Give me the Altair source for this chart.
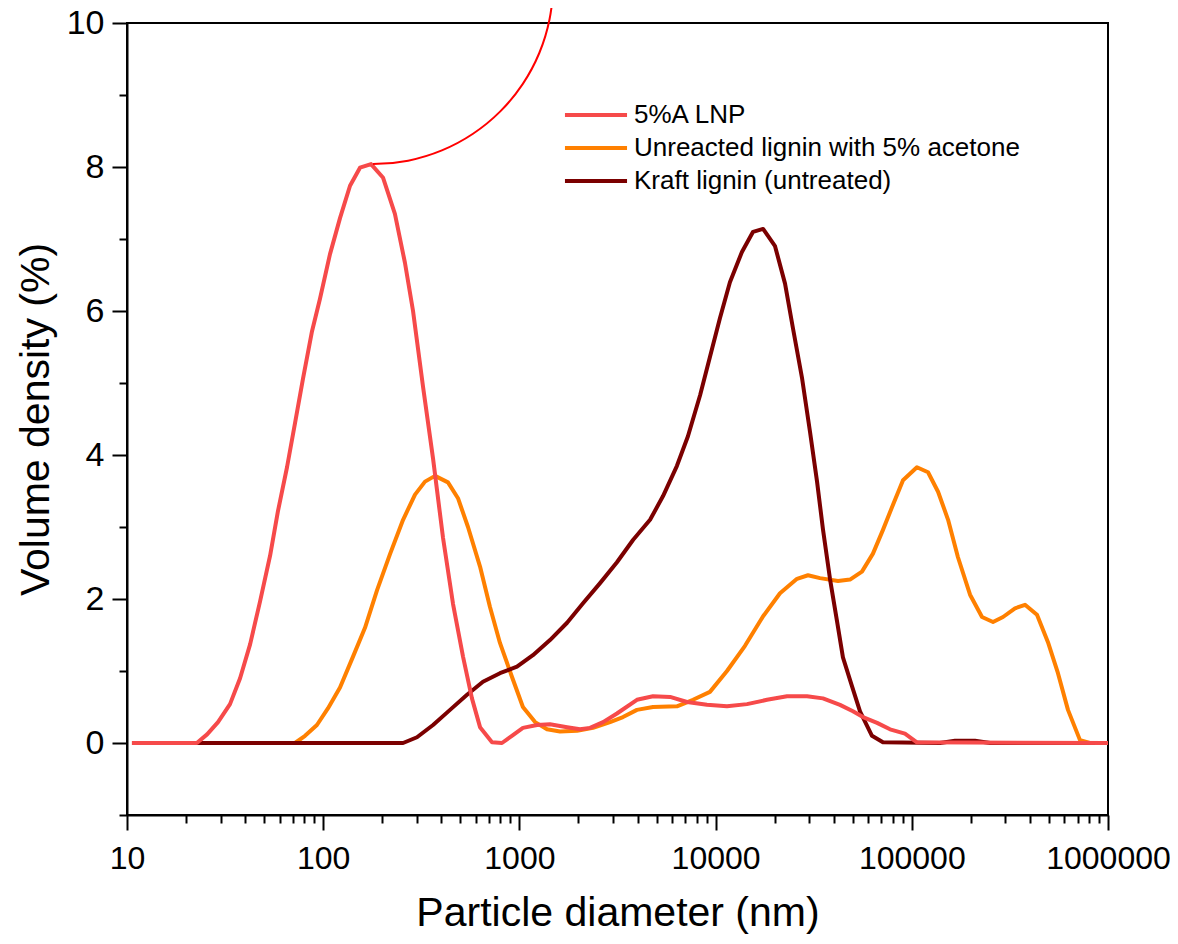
import math
import altair as alt
import pandas as pd

FONT = "Liberation Sans"

series_names = ["5%A LNP", "Unreacted lignin with 5% acetone", "Kraft lignin (untreated)"]
series_colors = ["#F64A4A", "#FF8000", "#7B0000"]

# 5%A LNP
lnp_x = [10.6, 22.7, 25.6, 29.1, 33.5, 37.7, 42.4, 47.6, 53.6, 58.8, 65.4, 71.8, 78.9, 87.7,
         96.3, 108.3, 121.8, 137, 154, 175.3, 202, 232, 261, 287, 323, 363, 408, 459, 516,
         573, 630, 725, 815, 927, 1042, 1230, 1432, 1750, 2037, 2291, 2669, 3142, 3972,
         4796, 5861, 7148, 9036, 11428, 14454, 18281, 23121, 29242, 35250, 43050, 50120,
         56370, 66530, 77450, 92270, 106200, 1000000]
lnp_y = [0, 0, 0.12, 0.29, 0.54, 0.9, 1.37, 1.96, 2.6, 3.22, 3.83, 4.44, 5.06, 5.72,
         6.17, 6.79, 7.29, 7.74, 7.99, 8.04, 7.85, 7.35, 6.67, 6.0, 4.94, 3.95, 2.85, 1.93, 1.2,
         0.62, 0.22, 0.01, 0.0, 0.11, 0.21, 0.25, 0.26, 0.22, 0.19, 0.21, 0.29, 0.41, 0.6,
         0.65, 0.64, 0.57, 0.53, 0.51, 0.54, 0.6, 0.65, 0.65, 0.62, 0.53, 0.44,
         0.36, 0.28, 0.19, 0.13, 0.01, 0]

# Unreacted lignin with 5% acetone
unr_x = [10.6, 71.8, 80.8, 92.9, 105.7, 121.8, 141.9, 163.3, 188, 218.8, 255.3, 293.7, 330.2,
         371.5, 432.5, 486.4, 547, 630, 708, 796, 916, 1042, 1202, 1383, 1611, 1968, 2373,
         2897, 3374, 3972, 4796, 6353, 7674, 9356, 11428, 14120, 17460, 21290, 26000, 29580,
         34050, 42070, 48420, 55720, 63390, 71290, 80200, 90190, 106200, 121000, 136100,
         153100, 171900, 198100, 228000, 259400, 291700, 335700, 377600, 434600, 494300,
         555900, 625200, 719800, 809100, 1000000]
unr_y = [0, 0, 0.1, 0.25, 0.48, 0.77, 1.2, 1.6, 2.12, 2.62, 3.1, 3.45, 3.63,
         3.71, 3.62, 3.4, 3.0, 2.45, 1.89, 1.39, 0.92, 0.5, 0.29, 0.19, 0.16, 0.17, 0.21,
         0.29, 0.36, 0.46, 0.5, 0.51, 0.6, 0.71, 1.0, 1.35, 1.76, 2.08, 2.28, 2.33,
         2.29, 2.25, 2.27, 2.38, 2.63, 2.96, 3.31, 3.65, 3.83, 3.76, 3.49,
         3.1, 2.58, 2.06, 1.75, 1.68, 1.75, 1.87, 1.92, 1.78, 1.4,
         0.97, 0.46, 0.04, 0, 0]

# Kraft lignin (untreated)
kraft_x = [10.6, 255.3, 300.6, 363, 443, 540.8, 652, 796, 972, 1172, 1432, 1750, 2110, 2577,
           3142, 3793, 4634, 5397, 6353, 7228, 8335, 9356, 10520, 11830, 13620, 15520, 17460,
           20090, 22590, 24830, 27610, 30290, 32890, 35250, 38280, 41590, 44570, 49550,
           54450, 62670, 71290, 139300, 166000, 209900, 250600, 1000000]
kraft_y = [0, 0, 0.08, 0.25, 0.46, 0.67, 0.85, 0.97, 1.06, 1.22, 1.43, 1.67, 1.94, 2.22,
           2.51, 2.82, 3.1, 3.43, 3.85, 4.26, 4.83, 5.36, 5.9, 6.4, 6.82, 7.1, 7.14,
           6.9, 6.38, 5.75, 5.06, 4.32, 3.63, 2.97, 2.28, 1.69, 1.19, 0.79,
           0.44, 0.1, 0.01, 0, 0.03, 0.03, 0, 0]

x_major = [10, 100, 1000, 10000, 100000, 1000000]
x_ticks = sorted(set(x_major + [m * k for m in x_major[:-1] for k in range(2, 10)]))
y_ticks = list(range(-1, 11))

# annotation arc (center in data units, near the LNP peak)
arc_x = [179.4]
arc_y = [10.54]

frames = []
for name, xs, ys in [(series_names[0], lnp_x, lnp_y),
                     (series_names[1], unr_x, unr_y),
                     (series_names[2], kraft_x, kraft_y)]:
    frames.append(pd.DataFrame({"d": xs, "v": ys, "series": name}))
df = pd.concat(frames, ignore_index=True)

major_test = "indexof([10,100,1000,10000,100000,1000000], datum.value) >= 0"

x_enc = alt.X(
    "d:Q",
    scale=alt.Scale(type="log", domain=[10, 1000000], nice=False),
    axis=alt.Axis(
        title="Particle diameter (nm)",
        values=x_ticks,
        format="d",
        labelExpr=f"{major_test} ? datum.label : ''",
        tickSize={"condition": {"test": major_test, "value": 15}, "value": 8},
        labelPadding=13,
        labelFontSize=32,
        titleFontSize=41,
        titlePadding=19,
        labelOverlap=False,
        labelFlush=False,
    ),
)
y_enc = alt.Y(
    "v:Q",
    scale=alt.Scale(domain=[-1, 10], nice=False, zero=False),
    axis=alt.Axis(
        title="Volume density (%)",
        values=y_ticks,
        format="d",
        labelExpr="datum.value >= 0 && datum.value % 2 == 0 ? datum.label : ''",
        tickSize={"condition": {"test": "datum.value % 2 == 0", "value": 15}, "value": 8},
        labelPadding=8,
        labelFontSize=34,
        titleFontSize=41,
        titlePadding=9,
        labelOverlap=False,
        labelFlush=False,
    ),
)

color = alt.Color(
    "series:N",
    scale=alt.Scale(domain=series_names, range=series_colors),
    legend=alt.Legend(
        orient="none",
        legendX=456,
        legendY=79,
        title=None,
        symbolType="M-3,0H3",
        symbolSize=428,
        symbolStrokeWidth=4,
        labelFontSize=26,
        labelFont=FONT,
        labelColor="black",
        labelOffset=25,
        labelLimit=0,
        rowPadding=7,
        padding=0,
    ),
)

base = alt.Chart(df)
layers = []
for name in [series_names[1], series_names[2], series_names[0]]:
    layers.append(
        base.transform_filter(alt.datum.series == name)
        .mark_line(strokeWidth=4, strokeJoin="round")
        .encode(x=x_enc, y=y_enc, color=color)
    )

arc = alt.Chart(pd.DataFrame({"d": arc_x, "v": arc_y})).mark_arc(
    theta=math.pi / 2, theta2=math.pi, radius=181, radius2=179, color="#FF0000"
).encode(x="d:Q", y="v:Q")

chart = (
    alt.layer(*layers, arc)
    .properties(
        width=981,
        height=792,
        autosize=alt.AutoSizeParams(type="none"),
        padding={"left": 119, "top": 15, "right": 62, "bottom": 121},
    )
    .configure_view(stroke="black", strokeWidth=2)
    .configure_axis(
        grid=False,
        domainColor="black",
        domainWidth=2,
        tickColor="black",
        tickWidth=2,
        labelColor="black",
        titleColor="black",
        labelFont=FONT,
        titleFont=FONT,
        titleFontWeight="normal",
    )
)

chart.save("out.html", embed_options={"renderer": "svg", "actions": False})
